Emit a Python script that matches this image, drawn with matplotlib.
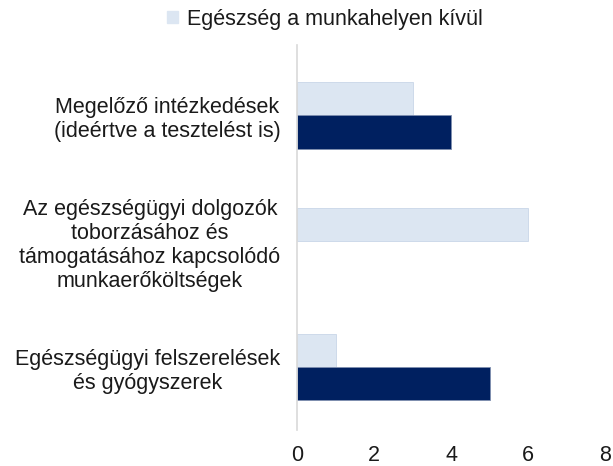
import numpy as np
import matplotlib.pyplot as plt
from matplotlib.patches import Patch

plt.rcParams['font.family'] = ['Liberation Sans', 'DejaVu Sans']

categories = ["Megelőző intézkedések\n(ideértve a tesztelést is)",
              "Az egészségügyi dolgozók\ntoborzásához és\ntámogatásához kapcsolódó\nmunkaerőköltségek",
              "Egészségügyi felszerelések\nés gyógyszerek"]
outside_work = [3, 6, 1]
other_series = [4, 0, 5]
legend_label = "Egészség a munkahelyen kívül"

light = '#DCE6F2'
dark = '#002060'
fs = 15.5

fig = plt.figure(figsize=(6.13, 4.66), dpi=100)
ax = fig.add_axes([297/613, 1-430/466, (605-297)/613, (430-45)/466])

y = np.arange(len(categories))
h = 0.265
ax.barh(y - h/2, outside_work, height=h, color=light, edgecolor='#C9D6E8',
        linewidth=[0.6 if v else 0 for v in outside_work])
ax.barh(y + h/2, other_series, height=h, color=dark, edgecolor='#8090B0',
        linewidth=[0.6 if v else 0 for v in other_series])

ax.set_xlim(0, 8)
ax.set_ylim(2.5, -0.56)
ax.set_xticks([0, 2, 4, 6, 8])
ax.set_yticks(y)
ax.set_yticklabels(categories, fontsize=fs, color='#1a1a1a', ma='center')
ax.tick_params(axis='x', labelsize=fs, colors='#1a1a1a', length=0, pad=11)
ax.tick_params(axis='y', length=0, pad=12)
for s in ['top', 'right', 'bottom']:
    ax.spines[s].set_visible(False)
ax.spines['left'].set_color('#D9D9D9')
ax.spines['left'].set_linewidth(1.2)

fig.legend(handles=[Patch(facecolor=light, edgecolor=light)], labels=[legend_label],
           loc='center', bbox_to_anchor=(325/613, 1-19/466), frameon=False,
           fontsize=fs, handlelength=0.5, handleheight=0.5, handletextpad=0.4,
           labelcolor='#1a1a1a')

fig.savefig('out.png', dpi=100)
